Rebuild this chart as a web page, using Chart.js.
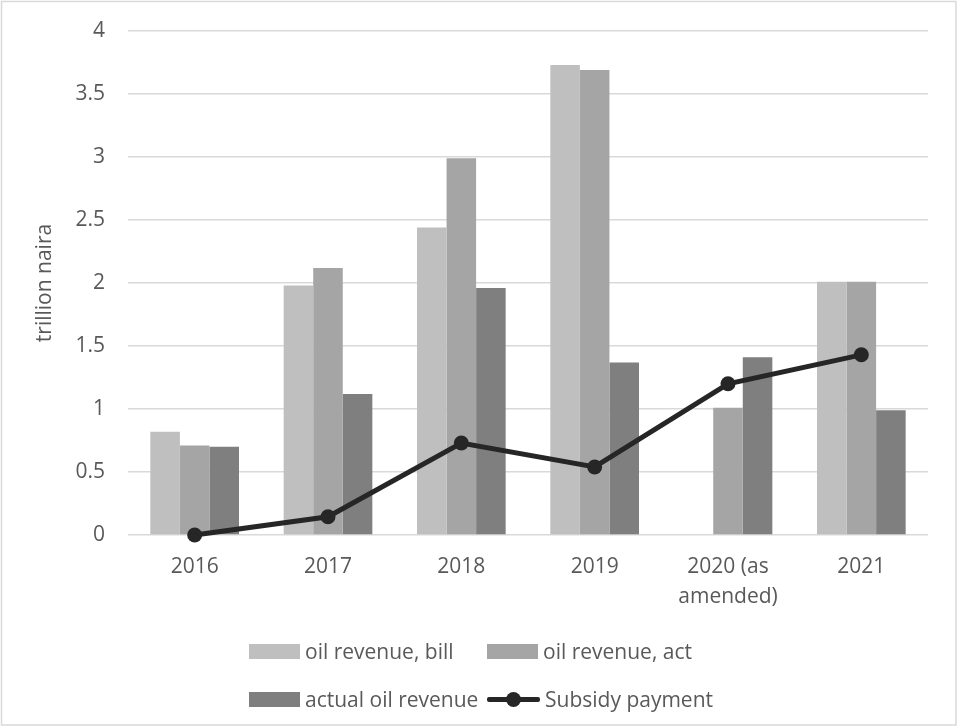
<!DOCTYPE html>
<html>
<head>
<meta charset="utf-8">
<script src="https://cdn.jsdelivr.net/npm/chart.js@4/dist/chart.umd.min.js"></script>
<style>
  html, body { margin: 0; padding: 0; background: #ffffff; }
  #wrap { position: relative; width: 957px; height: 726px; }
  canvas { position: absolute; left: 0; top: 0; }
  #legend {
    position: absolute; left: 249px; top: 627px;
    display: grid; grid-template-columns: 238px 238px; grid-auto-rows: 48px;
    font-family: "Open Sans", sans-serif; font-size: 21px; color: #595959;
  }
  .item { display: flex; align-items: center; white-space: nowrap; }
  .sw { display: inline-block; width: 51px; height: 15px; margin-right: 5px; }
  .ln { position: relative; display: inline-block; width: 53px; height: 15px; margin-right: 5px; }
  .ln .bar { position: absolute; left: 0; right: 0; top: 5px; height: 5px; border-radius: 2px; }
  .ln .dot { position: absolute; left: 19px; top: 0; width: 15px; height: 15px; border-radius: 50%; }
</style>
</head>
<body>
<div id="wrap">
  <canvas id="c" width="957" height="726"></canvas>
  <div id="legend"></div>
</div>
<script>
// ---- data ----
const categories = ['2016', '2017', '2018', '2019', ['2020 (as', 'amended)'], '2021'];
const oilRevenueBill = [0.82, 1.98, 2.44, 3.73, null, 2.01];
const oilRevenueAct = [0.71, 2.12, 2.99, 3.69, 1.01, 2.01];
const actualOilRevenue = [0.70, 1.12, 1.96, 1.37, 1.41, 0.99];
const subsidyPayment = [0, 0.145, 0.73, 0.54, 1.20, 1.43];
const seriesNames = ['oil revenue, bill', 'oil revenue, act', 'actual oil revenue', 'Subsidy payment'];
const yAxisTitle = 'trillion naira';

const FONT = '"Open Sans", sans-serif';
const TXT = '#595959';
const GRID = '#d9d9d9';

const framePlugin = {
  id: 'frame',
  beforeDraw(chart) {
    const ctx = chart.ctx;
    ctx.save();
    ctx.fillStyle = '#ffffff';
    ctx.fillRect(0, 0, chart.width, chart.height);
    ctx.strokeStyle = GRID;
    ctx.lineWidth = 1.5;
    ctx.strokeRect(1.5, 1.5, chart.width - 2.5, chart.height - 2.5);
    ctx.restore();
  }
};

const chart = new Chart(document.getElementById('c'), {
  type: 'bar',
  data: {
    labels: categories,
    datasets: [
      { label: seriesNames[0], data: oilRevenueBill, backgroundColor: '#bfbfbf', order: 1 },
      { label: seriesNames[1], data: oilRevenueAct, backgroundColor: '#a5a5a5', order: 1 },
      { label: seriesNames[2], data: actualOilRevenue, backgroundColor: '#7f7f7f', order: 1 },
      { label: seriesNames[3], data: subsidyPayment, type: 'line', order: 0,
        borderColor: '#262626', backgroundColor: '#262626', borderWidth: 5,
        pointRadius: 7.5, pointHoverRadius: 7.5, pointBackgroundColor: '#262626',
        pointBorderWidth: 0, tension: 0, clip: false }
    ]
  },
  options: {
    responsive: false,
    animation: false,
    devicePixelRatio: 1,
    datasets: { bar: { categoryPercentage: 0.665, barPercentage: 1, borderWidth: 0 } },
    layout: { padding: { left: 2, right: 29, top: 31, bottom: 0 } },
    plugins: { legend: { display: false }, tooltip: { enabled: false } },
    scales: {
      x: {
        grid: { display: false, drawTicks: false },
        border: { display: false },
        ticks: { color: TXT, font: { family: FONT, size: 21, lineHeight: 1.43 }, padding: 17, maxRotation: 0, autoSkip: false },
        afterFit(s) { s.height = 191; }
      },
      y: {
        min: 0, max: 4,
        grid: { color: GRID, lineWidth: 1.5, drawTicks: true, tickLength: 23, tickColor: 'rgba(0,0,0,0)' },
        border: { display: false },
        ticks: { stepSize: 0.5, color: TXT, font: { family: FONT, size: 21 }, padding: 0,
                 callback: v => String(v) },
        title: { display: true, text: yAxisTitle, color: TXT, font: { family: FONT, size: 21 }, padding: { top: 30, bottom: 0 } },
        afterFit(s) { s.width = 126; }
      }
    }
  },
  plugins: [framePlugin]
});

// HTML legend built from chart datasets
const lg = document.getElementById('legend');
chart.data.datasets.forEach(ds => {
  const it = document.createElement('div');
  it.className = 'item';
  if (ds.type === 'line') {
    it.innerHTML = '<span class="ln"><span class="bar" style="background:' + ds.borderColor + '"></span><span class="dot" style="background:' + ds.borderColor + '"></span></span>';
  } else {
    it.innerHTML = '<span class="sw" style="background:' + ds.backgroundColor + '"></span>';
  }
  const t = document.createElement('span');
  t.textContent = ds.label;
  it.appendChild(t);
  lg.appendChild(it);
});
</script>
</body>
</html>
